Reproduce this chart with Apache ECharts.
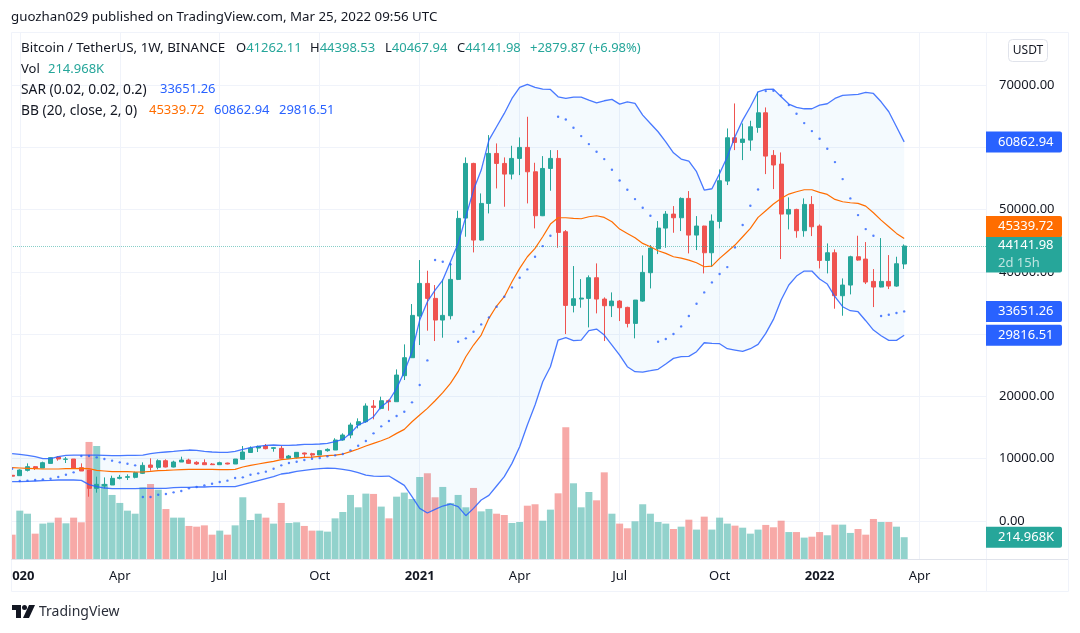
<!DOCTYPE html>
<html>
<head>
<meta charset="utf-8">
<title>BTCUSDT 1W</title>
<style>
html,body{margin:0;padding:0;background:#fff;}
#chart{width:1080px;height:633px;}
</style>
<script src="https://cdn.jsdelivr.net/npm/echarts@6/dist/echarts.min.js"></script>
</head>
<body>
<div id="chart"></div>
<script>
// weekly candles, [open, close, low, high], oldest first
var candles = [
[7340,7200,7100,7500],[7275,8185,7275,8290],[8130,8720,7950,9250],[8720,8450,8190,8830],[8510,9360,8510,9520],
[9250,10165,9250,10220],[10270,9950,9680,10430],[9900,9950,9310,10270],[9950,8450,8450,9950],[8560,8025,8025,9250],
[8185,5240,3900,8185],[5240,5885,4550,7115],[5618,5885,5240,7000],[5780,6850,5780,7275],[6850,7010,6690,7400],
[7010,7115,6580,7490],[7010,7760,6850,7920],[7650,8930,7540,9415],[8990,8610,8080,10060],[8610,9680,8290,9900],
[9680,8665,8610,9900],[8665,9470,8610,9680],[9470,9790,9470,10325],[9790,9255,9150,10000],[9415,9150,8990,9600],
[9360,9040,8990,9900],[9150,9040,8990,9300],[9040,9360,9040,9520],[9300,9150,9100,9360],[9150,9950,9150,9950],
[9900,11075,9900,12035],[11000,11715,10950,11980],[11715,11985,11075,12100],[12035,11610,11500,12360],[11660,11770,11130,11880],
[11660,10060,10060,12035],[10060,10430,9950,10600],[10220,11020,10060,11050],[10915,10750,10165,10980],[10805,10590,10165,10950],
[10590,11290,10590,11290],[11290,11500,11130,11660],[11395,13000,11395,13290],[13000,13800,12890,14070],[13800,15410,13270,15780],
[15410,15940,14870,16480],[15940,18460,15780,18885],[18460,18240,16320,19420],[18080,19310,17920,19955],[19310,19150,17710,19500],
[19150,23430,19150,24340],[23325,26215,22630,28355],[26215,33010,26215,34830],[32900,38145,28250,41890],[38145,35740,30550,40180],
[35740,32260,28890,37880],[32260,33010,29425,38790],[32955,38790,32365,41460],[38790,48580,38680,49810],[48630,57405,45635,58370],
[57405,45100,43120,57510],[45100,50985,45000,52590],[50985,59010,49380,61950],[59010,57405,53390,60615],[57405,55690,50450,58370],
[55690,58210,54840,60240],[58210,59975,55530,61580],[59975,56065,50985,64895],[56065,49005,46975,57510],[49005,56600,48950,58580],
[56600,58210,53020,59545],[58210,46330,43870,59545],[46440,34615,30010,46705],[34615,35685,33490,40930],[35630,35790,34240,38840],
[35740,39055,31080,39430],[39055,35630,33330,41355],[35630,34560,28890,35900],[34560,35310,32740,36700],[35310,34240,32100,35470],
[34295,31725,31080,34400],[31725,35470,29320,35470],[35310,39910,35200,42640],[39860,43815,37340,44300],[43710,47025,42850,48150],
[47025,49270,43870,49755],[49270,48685,46275,50560],[48685,51790,46545,51950],[51790,45900,42960,52965],[45900,47350,43495,48950],
[47350,43065,39750,47400],[43065,48150,40820,49220],[48095,54625,46975,56440],[54570,61525,53930,63020],[61525,60775,59545,67035],
[60775,61310,57940,63825],[61150,63290,59440,64255],[63185,65535,62330,68900],[65535,58580,55690,66395],[58690,57150,53285,59545],
[57300,49270,42050,59170],[49270,50020,46815,51950],[50020,46600,45475,50130],[46600,50825,45635,51790],[50825,47240,45740,52160],
[47350,41835,40550,47615],[41835,43065,39750,44565],[43065,36165,34080,43600],[36165,37880,32955,38945],[37880,42425,36380,42585],
[42425,41890,41785,45795],[42050,38360,38040,44780],[38465,37560,34345,40445],[37560,38465,37505,45420],[38465,37715,37235,42690],
[37715,41300,37610,42425],[41262.11,44141.98,40467.94,44398.53]
];
// volume in thousands
var volumes = [
240,477,447,250,349,359,408,352,408,362,
1155,1115,740,632,553,477,447,707,740,684,
493,408,408,326,319,332,240,280,240,332,
609,385,447,408,349,553,355,362,326,280,
280,270,401,464,632,510,645,642,517,401,
615,655,592,809,846,609,711,553,632,510,
701,470,494,447,434,355,365,526,540,378,
487,648,1300,747,510,661,579,855,447,349,
303,372,540,447,365,349,296,319,388,290,
418,290,408,349,329,309,250,290,336,313,
378,266,266,211,220,266,234,339,339,257,
296,240,395,365,365,319,214.968
];
var bbUpper = [
10805,10700,10540,10325,10000,10000,10325,10540,10590,10590,
10590,10590,10540,10485,10485,10540,10540,10590,10805,10965,
11075,11180,11290,11395,11340,11180,11075,11020,11020,11180,
11500,11770,11985,12145,12200,12145,12145,12200,12305,12305,
12360,12465,12730,13100,14070,15410,15940,16745,18350,19310,
21290,23970,27180,32260,35200,37075,38680,41620,44565,48845,
53125,56335,61150,63290,65430,67840,69600,70085,69600,69335,
69280,68105,67840,68050,68050,67570,67140,67465,67680,66930,
67300,67035,65160,63825,62490,60880,59115,58100,57780,56070,
53125,53340,55800,58475,61685,64360,66500,68900,69280,69335,
68105,66930,66395,66180,66180,66770,66985,67840,68320,68425,
68480,68800,68640,67300,65700,63290,60862.94
];
var bbBasis = [
8560,8505,8450,8400,8345,8345,8345,8400,8400,8450,
8400,8130,8025,7920,7920,7920,7865,7865,7970,8080,
8130,8185,8240,8290,8290,8290,8290,8240,8240,8290,
8665,8935,9150,9360,9575,9845,9950,10110,10220,10270,
10380,10485,10570,10750,11130,11555,12040,12465,12890,13375,
14070,14710,15940,17010,18080,19310,20600,22095,23970,26375,
28250,29850,32530,34510,36005,38415,40550,42425,43760,45635,
47670,48685,48685,48580,48525,48845,49005,48740,48045,46865,
46170,45475,44565,44030,43390,42960,42425,42210,41890,41460,
40820,40925,42160,43230,44300,45635,46975,48740,49810,50880,
51790,52485,52860,53180,53180,52750,52430,51625,51255,51090,
50985,50555,49490,48310,47240,46170,45339.72
];
var bbLower = [
6310,6310,6365,6420,6475,6525,6580,6580,6580,6525,
5830,5510,5295,5190,5190,5190,5190,5240,5240,5240,
5240,5350,5400,5400,5455,5455,5510,5510,5510,5510,
5830,6150,6475,6795,7115,7545,7705,7970,8130,8290,
8400,8505,8450,8290,8080,7760,7380,7220,7170,7220,
6475,5725,3905,2035,1285,1870,2405,2730,2300,855,
2030,3370,4120,5620,7115,9255,11930,15410,18620,22360,
24770,29050,29425,28945,29050,30550,30815,29850,28250,26640,
24770,23970,23915,24130,24350,25200,26110,26375,26430,27180,
28620,28515,28460,27660,27445,27230,27660,28355,30120,32365,
35470,37880,39320,40125,40125,38840,38040,36005,34400,33760,
33600,32155,30655,29745,29000,29000,29816.51
];
var sar = [
8400,6420,6475,6580,6690,6795,7060,7435,7810,10430,
10430,10220,9950,9685,9415,9200,8935,3850,3850,4225,
4330,4600,4815,5240,5455,5725,5990,6260,6475,6900,
7010,7435,7650,7920,8400,8935,9310,9520,9790,10005,
10110,10380,10540,10750,11340,12090,12840,14070,15195,16050,
16850,17550,19045,21830,25785,41890,41620,41200,28780,29320,
30390,31565,32690,34400,36005,37505,39055,40390,42425,44135,
45795,64895,64465,63130,61795,60510,59280,58100,56390,54675,
53180,51680,50290,49005,28780,29210,30010,31245,32900,34880,
36700,38305,39645,40765,43925,47510,50610,53230,69015,69070,
68320,66770,65375,63880,62595,61365,59760,57620,54890,51790,
49110,46865,45795,32900,33115,33385,33651.26
];
// axis ticks
var xTicks = [1,14,27,40,53,66,79,92,105,118];
var xLabels = ['020','Apr','Jul','Oct','2021','Apr','Jul','Oct','2022','Apr'];
var yTicks = [0,10000,20000,30000,40000,50000,60000,70000];

var FONT = '"Noto Sans", sans-serif';
var UP = '#26a69a', DOWN = '#ef5350', BLUE = '#2962ff', ORANGE = '#ff6d00', INK = '#131722';
var GRIDLINE = '#f0f3fa';

function withIndex(list){
    return list.map(function(v, i){ return [i, v]; });
}

// one piece of the legend text at the top left
function legendText(left, top, text, color, size){
    return {
        left: left, top: top, padding: 0, text: text,
        textStyle: {
            fontFamily: FONT, fontSize: size || 13, fontWeight: 'normal', color: color || INK,
            rich: {u: {color: UP, fontFamily: FONT, fontSize: 13}}
        }
    };
}

// the coloured value tags on the price axis
function tag(value, bg, text, dy){
    return {
        silent: true,
        symbol: 'none',
        animation: false,
        lineStyle: {color: 'transparent', width: 0},
        label: {
            position: 'end',
            distance: 0,
            formatter: text,
            offset: [0, dy || 0],
            backgroundColor: bg,
            color: '#fff',
            fontFamily: FONT,
            fontSize: 13,
            width: 64,
            height: 21,
            lineHeight: 21,
            padding: [0, 0, 0, 12],
            borderRadius: [0, 2, 2, 0]
        },
        data: [{yAxis: value}]
    };
}

var last = candles[candles.length - 1];

var myChart = echarts.init(document.getElementById('chart'), null, {renderer: 'canvas'});
var option = {
    animation: false,
    backgroundColor: '#fff',
    textStyle: {fontFamily: FONT},
    title: [
        legendText(11, 11, 'guozhan029 published on TradingView.com, Mar 25, 2022 09:56 UTC', INK, 13.3),
        legendText(21, 42, 'Bitcoin / TetherUS, 1W, BINANCE', INK, 13.4),
        legendText(236, 42, 'O{u|41262.11}'),
        legendText(310, 42, 'H{u|44398.53}'),
        legendText(385, 42, 'L{u|40467.94}'),
        legendText(457, 42, 'C{u|44141.98}'),
        legendText(530, 42, '+2879.87 (+6.98%)', UP),
        legendText(21, 63, 'Vol'),
        legendText(48, 63, '214.968K', UP),
        legendText(21, 83, 'SAR (0.02, 0.02, 0.2)', INK, 13.8),
        legendText(160, 83, '33651.26', BLUE),
        legendText(21, 104, 'BB (20, close, 2, 0)', INK, 13.8),
        legendText(149, 104, '45339.72', ORANGE),
        legendText(214, 104, '60862.94', BLUE),
        legendText(279, 104, '29816.51', BLUE)
    ],
    grid: {left: 11, right: 94, top: 32, bottom: 74},
    xAxis: {
        type: 'value',
        min: -0.144,
        max: 126.64,
        axisLine: {show: false},
        axisTick: {show: false, customValues: xTicks},
        splitLine: {show: true, lineStyle: {color: GRIDLINE, width: 1}},
        axisLabel: {
            customValues: xTicks,
            margin: 11,
            color: INK,
            fontFamily: FONT,
            fontSize: 13,
            formatter: function(value){
                var text = xLabels[xTicks.indexOf(value)];
                if (text === '020') return '{first|020}';
                return /^\d+$/.test(text) ? '{year|' + text + '}' : text;
            },
            rich: {
                year: {fontWeight: 'bold', fontFamily: FONT, fontSize: 13, color: INK},
                first: {fontWeight: 'bold', fontFamily: FONT, fontSize: 13, color: INK, padding: [0, 0, 0, 7]}
            }
        }
    },
    yAxis: [{
        type: 'value',
        position: 'right',
        min: -6100,
        max: 78504,
        axisLine: {show: false},
        axisTick: {show: false, customValues: yTicks},
        splitLine: {show: true, lineStyle: {color: GRIDLINE, width: 1}},
        axisLabel: {
            customValues: yTicks,
            margin: 13,
            padding: [2, 0, 0, 0],
            color: INK,
            fontFamily: FONT,
            fontSize: 13,
            formatter: function(v){ return v.toFixed(2); }
        }
    }, {
        type: 'value',
        show: false,
        min: 0,
        max: 5200,
        splitLine: {show: false}
    }],
    graphic: [
        // hides what sticks out left of the pane
        {type: 'rect', silent: true, z: 100, shape: {x: 0, y: 33, width: 11, height: 526}, style: {fill: '#fff'}},
        // chart frame and price scale edge
        {type: 'rect', silent: true, z: 101, shape: {x: 11.5, y: 32.5, width: 1057, height: 559},
         style: {fill: 'transparent', stroke: GRIDLINE, lineWidth: 1}},
        {type: 'line', silent: true, z: 101, shape: {x1: 11, y1: 559.5, x2: 1068, y2: 559.5},
         style: {stroke: '#e0e3eb', lineWidth: 1}},
        {type: 'line', silent: true, z: 0, shape: {x1: 986.5, y1: 32, x2: 986.5, y2: 591},
         style: {stroke: GRIDLINE, lineWidth: 1}},
        // currency button
        {type: 'rect', silent: true, z: 5, shape: {x: 1008.5, y: 39.5, width: 39, height: 22, r: 4},
         style: {fill: '#fff', stroke: '#e0e3eb', lineWidth: 1}},
        {type: 'text', silent: true, z: 6, x: 1028, y: 50.5,
         style: {text: 'USDT', fill: INK, font: '12px "Noto Sans"', textAlign: 'center', textVerticalAlign: 'middle'}},
        // TradingView mark
        {type: 'polygon', silent: true, shape: {points: [[12, 605], [21, 605], [21, 618], [16, 618], [16, 610], [12, 610]]},
         style: {fill: INK}},
        {type: 'circle', silent: true, shape: {cx: 24.5, cy: 607.5, r: 2.5}, style: {fill: INK}},
        {type: 'polygon', silent: true, shape: {points: [[29, 605], [35, 605], [29, 618], [23, 618]]},
         style: {fill: INK}},
        {type: 'text', silent: true, x: 39, y: 612,
         style: {text: 'TradingView', fill: '#2a2e39', font: '14px "Noto Sans"', textVerticalAlign: 'middle'}}
    ],
    series: [{
        name: 'Vol',
        type: 'bar',
        yAxisIndex: 1,
        barWidth: 7,
        z: 1,
        data: withIndex(volumes),
        itemStyle: {
            color: function(p){
                var c = candles[p.dataIndex];
                return c[1] >= c[0] ? 'rgba(38,166,154,0.5)' : 'rgba(239,83,80,0.5)';
            }
        },
        markLine: tag(volumes[volumes.length - 1], UP, '214.968K')
    }, {
        // fill between the upper and lower band
        name: 'BB fill',
        type: 'custom',
        silent: true,
        z: 2,
        data: [[0, 0]],
        renderItem: function(params, api){
            var points = [];
            bbUpper.forEach(function(v, i){ points.push(api.coord([i, v])); });
            for (var i = bbLower.length - 1; i >= 0; i--) points.push(api.coord([i, bbLower[i]]));
            return {type: 'polygon', shape: {points: points}, style: {fill: 'rgba(33,150,243,0.05)'}};
        }
    }, {
        name: 'BTCUSDT',
        type: 'candlestick',
        barWidth: 4.5,
        z: 3,
        encode: {x: 0, y: [1, 2, 3, 4]},
        data: candles.map(function(c, i){ return [i, c[0], c[1], c[2], c[3]]; }),
        itemStyle: {color: UP, color0: DOWN, borderColor: UP, borderColor0: DOWN, borderWidth: 1},
        markLine: {
            silent: true,
            symbol: 'none',
            animation: false,
            lineStyle: {color: 'rgba(38,166,154,0.55)', type: 'dotted', width: 1},
            label: {
                position: 'end',
                distance: 0,
                offset: [0, 8],
                formatter: '{p|' + last[1] + '}\n{t|2d 15h}',
                backgroundColor: UP,
                padding: [1, 0, 1, 12],
                width: 64,
                borderRadius: [0, 2, 2, 0],
                rich: {
                    p: {color: '#fff', fontFamily: FONT, fontSize: 13, lineHeight: 18},
                    t: {color: 'rgba(255,255,255,0.7)', fontFamily: FONT, fontSize: 13, lineHeight: 17}
                }
            },
            data: [{yAxis: last[1]}]
        }
    }, {
        name: 'BB basis',
        type: 'line',
        data: withIndex(bbBasis),
        symbol: 'none',
        z: 5,
        lineStyle: {color: ORANGE, width: 1.2},
        markLine: tag(bbBasis[bbBasis.length - 1], ORANGE, '45339.72', -12)
    }, {
        name: 'BB upper',
        type: 'line',
        data: withIndex(bbUpper),
        symbol: 'none',
        z: 5,
        lineStyle: {color: BLUE, width: 1.3, opacity: 0.85},
        markLine: tag(bbUpper[bbUpper.length - 1], BLUE, '60862.94')
    }, {
        name: 'BB lower',
        type: 'line',
        data: withIndex(bbLower),
        symbol: 'none',
        z: 5,
        lineStyle: {color: BLUE, width: 1.3, opacity: 0.85},
        markLine: tag(bbLower[bbLower.length - 1], BLUE, '29816.51')
    }, {
        name: 'SAR',
        type: 'scatter',
        data: withIndex(sar),
        symbolSize: 2.4,
        z: 5,
        itemStyle: {color: BLUE},
        markLine: tag(sar[sar.length - 1], BLUE, '33651.26')
    }]
};
myChart.setOption(option);
</script>
</body>
</html>
